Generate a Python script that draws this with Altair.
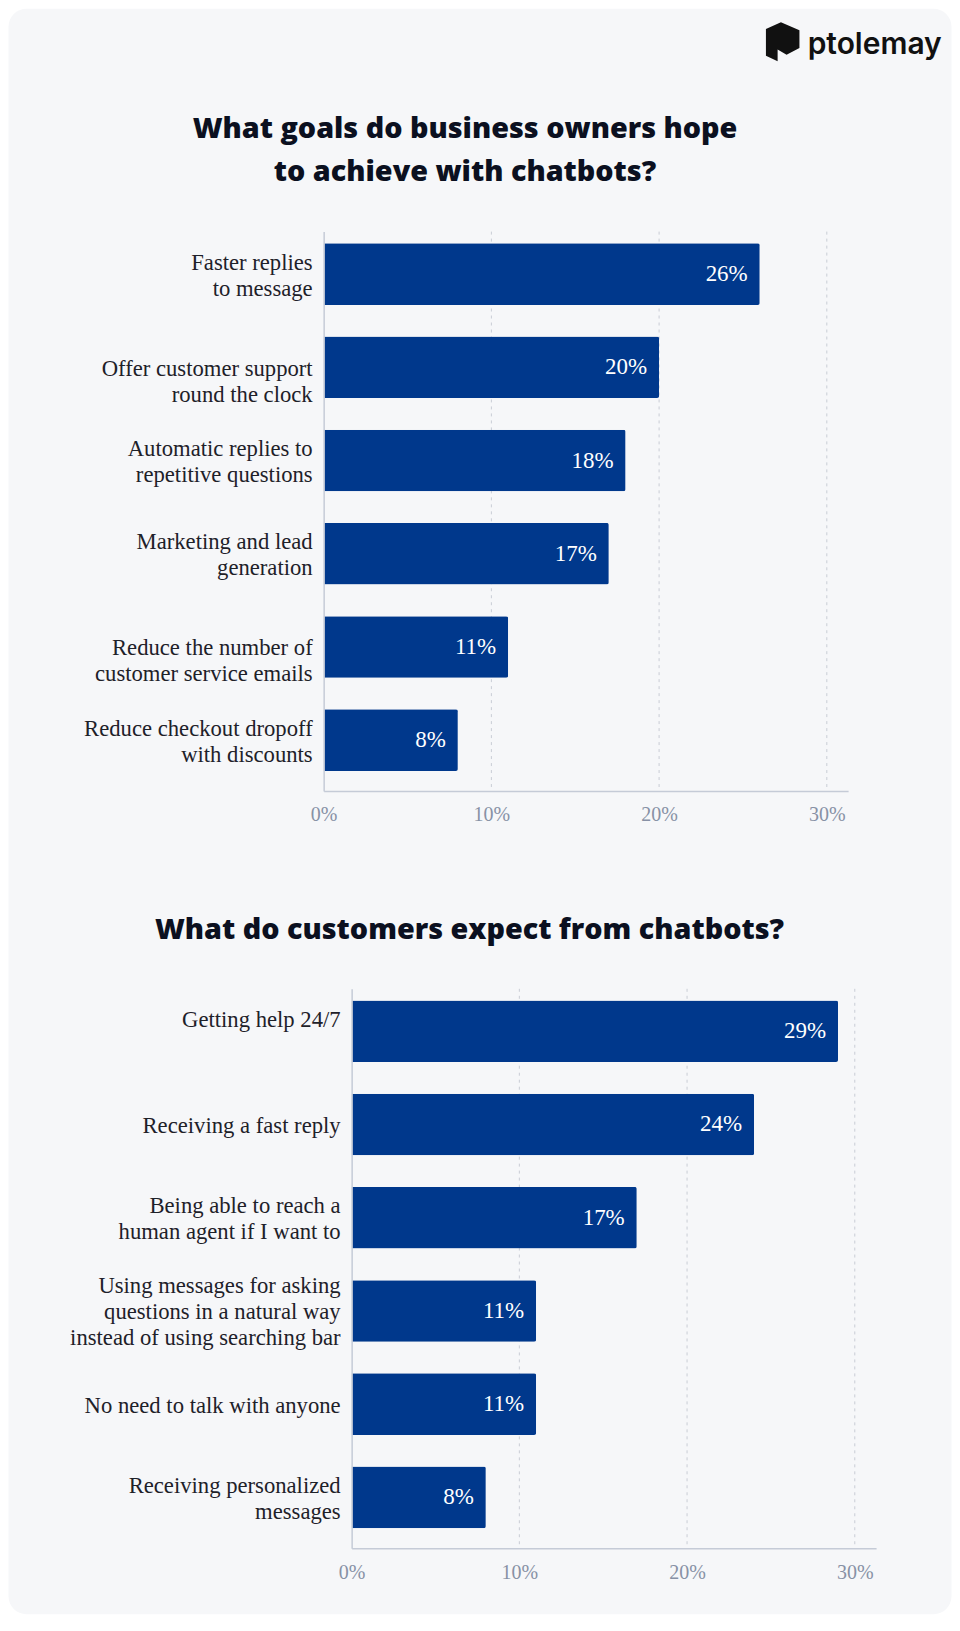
import altair as alt
import pandas as pd

# ---------------- data ----------------
goal_labels = [
    "Faster replies|to message",
    "Offer customer support|round the clock",
    "Automatic replies to|repetitive questions",
    "Marketing and lead\u00a0|generation\u00a0",
    "Reduce the number of|customer service emails",
    "Reduce checkout dropoff|with discounts",
]
goal_values = [26, 20, 18, 17, 11, 8]

expect_labels = [
    "Getting help 24/7",
    "Receiving a fast reply",
    "Being able to reach a|human agent if I want to",
    "Using messages for asking|questions in a natural way|instead of using searching bar",
    "No need to talk with anyone",
    "Receiving personalized|messages",
]
expect_values = [29, 24, 17, 11, 11, 8]

tick_values = [0, 10, 20, 30]
grid_values = [10, 20, 30]

title_top = ["What goals do business owners hope", "to achieve with chatbots?"]
title_bottom = "What do customers expect from chatbots?"
brand = "ptolemay"

# ---------------- style ----------------
BAR = "#00388c"
CARD = "#f6f7f9"
GRID = "#c9cdd5"
AXIS = "#c5cbd7"
TICK = "#8791a5"
LABEL = "#1e2129"
TITLE = "#0b1020"
SERIF = "Liberation Serif"
TITLE_FONT = "Open Sans"
LABEL_SIZE = 22.7
LINE_H = 26
LABEL_NUDGE = 1.5
# half-line steps a label block is raised; default is (lines - 1), i.e. centred
LABEL_RAISE = {
    "Offer customer support|round the clock": 0,
    "Reduce the number of|customer service emails": 0,
    "Getting help 24/7": 1,
}

PANEL_W = 525
PANEL_H = 560
X_MAX = 31.27

one = pd.DataFrame({"a": [0]})

ICON_PATH = ("M-0.86,-0.66L-0.09,-1L0.86,-0.59L0.86,0.32L0.2,0.66"
             "L-0.26,0.4L-0.26,1L-0.86,0.71Z")


def panel(labels, values, title, title_dx):
    shift = []
    for lab in labels:
        k = LABEL_RAISE.get(lab, lab.count("|"))
        shift.append(LABEL_NUDGE - k * LINE_H / 2)
    df = pd.DataFrame({
        "label": labels,
        "value": values,
        "text": [f"{v}%" for v in values],
        "shift": shift,
    })
    xscale = alt.Scale(domain=[0, X_MAX], nice=False, zero=True)
    yscale = alt.Scale(paddingInner=0.339, paddingOuter=0.17, align=0.368)

    x_axis = alt.Axis(
        values=tick_values, labelExpr="datum.value + '%'", grid=False,
        ticks=False, tickSize=0, domainColor=AXIS, domainWidth=1.5,
        labelFont=SERIF, labelFontSize=20, labelColor=TICK, labelPadding=14,
        labelFlush=False, title=None, zindex=1,
    )
    y_axis = alt.Axis(
        title=None, labels=False, ticks=False, tickSize=0, domainColor=AXIS,
        domainWidth=1.5, zindex=1,
    )

    grid = alt.Chart(pd.DataFrame({"value": grid_values})).mark_rule(
        color=GRID, strokeDash=[3, 4], strokeWidth=1
    ).encode(
        x=alt.X("value:Q", scale=xscale, axis=x_axis),
        y=alt.value(0),
        y2=alt.value(PANEL_H),
    )

    bars = alt.Chart(df).mark_bar(color=BAR, cornerRadiusEnd=2).encode(
        x=alt.X("value:Q", scale=xscale, axis=x_axis),
        y=alt.Y("label:N", sort=labels, scale=yscale, axis=y_axis),
    )

    text = alt.Chart(df).mark_text(
        align="right", baseline="middle", dx=-12, font=SERIF,
        fontSize=23, color="white",
    ).encode(
        x=alt.X("value:Q", scale=xscale),
        y=alt.Y("label:N", sort=labels, scale=yscale),
        text="text:N",
    )

    label_layers = []
    for s in sorted(set(shift)):
        label_layers.append(
            alt.Chart(df).transform_filter(f"datum.shift == {s}").mark_text(
                align="right", baseline="middle", lineBreak="|", dy=s,
                font=SERIF, fontSize=LABEL_SIZE, lineHeight=LINE_H,
                color=LABEL,
            ).encode(
                x=alt.value(-11),
                y=alt.Y("label:N", sort=labels, scale=yscale),
                text="label:N",
            )
        )

    return alt.layer(grid, bars, text, *label_layers).properties(
        width=PANEL_W,
        height=PANEL_H,
        title=alt.TitleParams(
            text=title, anchor="middle", frame="group", dx=title_dx,
            offset=44, font=TITLE_FONT, fontSize=28.8, fontWeight=800,
            color=TITLE, lineHeight=43.5,
        ),
    )


# header: rounded card background + brand logo
card = alt.Chart(one).mark_rect(fill=CARD, cornerRadius=18).encode(
    x=alt.value(-315.5), x2=alt.value(628.5),
    y=alt.value(-24), y2=alt.value(1583),
)
icon = alt.Chart(one).mark_point(
    shape=ICON_PATH, filled=True, fill="#111111", opacity=1,
    strokeWidth=0, size=1521,
).encode(x=alt.value(459.5), y=alt.value(9))
logo_text = alt.Chart(one).mark_text(
    text=brand, font="Inter", fontSize=30, fontWeight=600, align="left",
    baseline="alphabetic", color="#111111",
).encode(x=alt.value(484.5), y=alt.value(21.3))
header = alt.layer(card, icon, logo_text).properties(width=PANEL_W, height=1)

top = panel(goal_labels, goal_values, title_top, -121)
bottom = panel(expect_labels, expect_values, title_bottom, -144.5)

spacer = alt.Chart(one).mark_point(opacity=0).encode(
    x=alt.X("a:Q", axis=None), y=alt.Y("a:Q", axis=None)
).properties(width=27.5, height=1)

bottom_row = alt.hconcat(spacer, bottom, spacing=0, bounds="flush")

chart = alt.vconcat(header, top, bottom_row, spacing=198, bounds="flush").properties(
    padding=0, background="white"
).configure_view(stroke=None)

chart.save("out.html", embed_options={"renderer": "svg", "actions": False})
